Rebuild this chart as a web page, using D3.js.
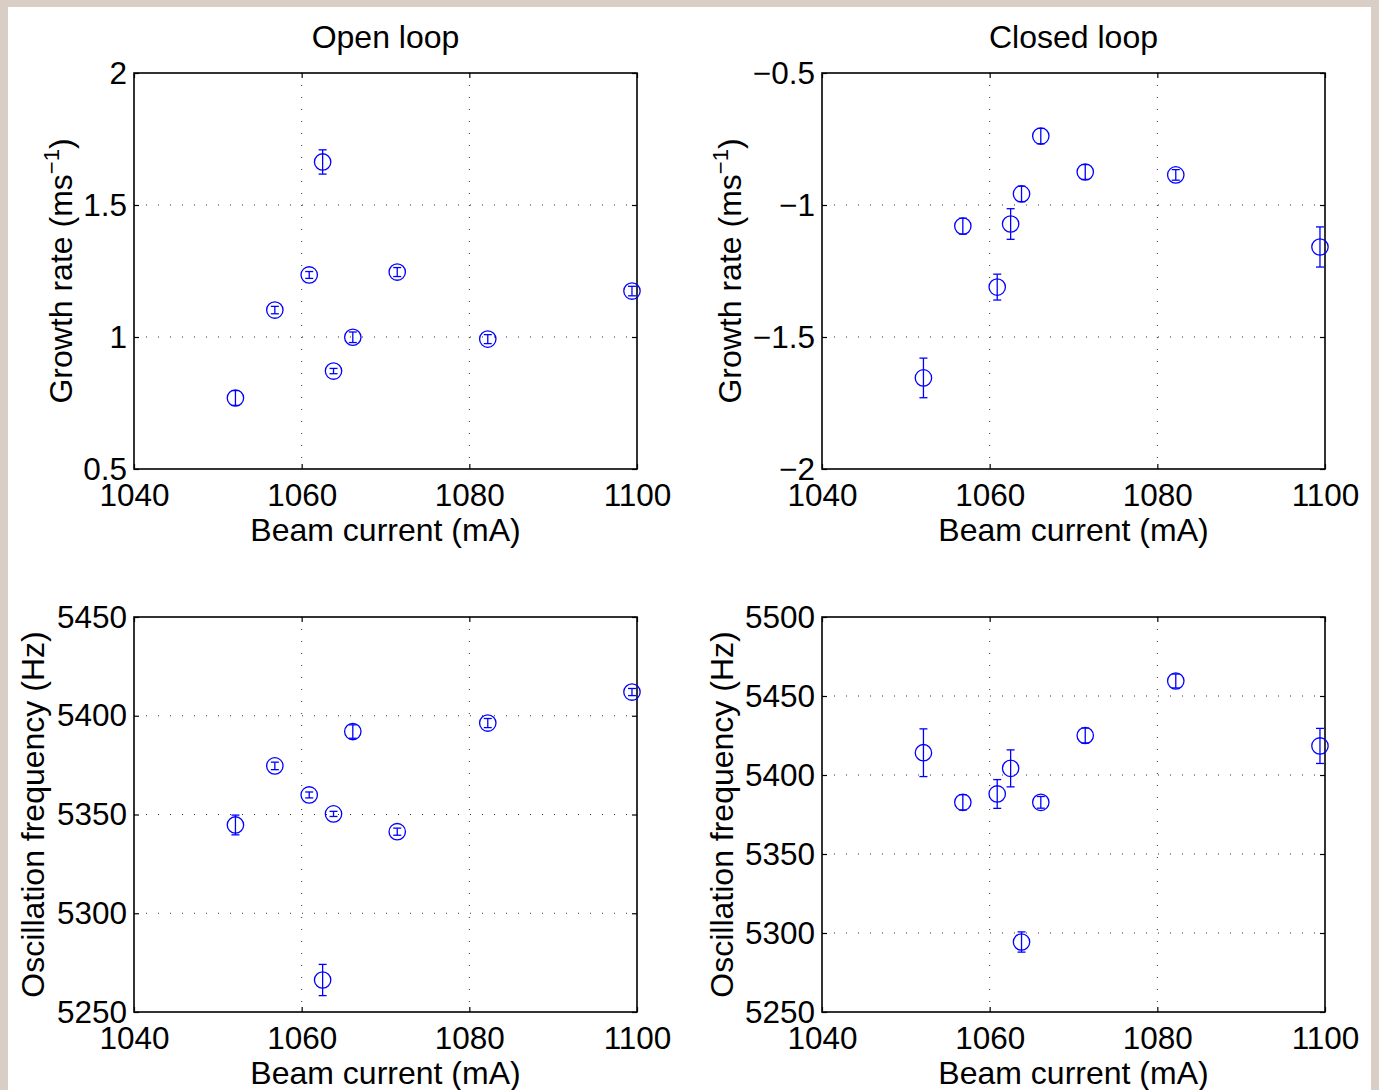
<!DOCTYPE html>
<html>
<head>
<meta charset="utf-8">
<script src="https://cdn.jsdelivr.net/npm/d3@7"></script>
<style>
  html, body { margin: 0; padding: 0; background: #d9cec5; }
  svg { display: block; }
  text { font-family: "Liberation Sans", Arial, Helvetica, sans-serif; fill: #000; }
</style>
</head>
<body>
<svg id="chart" width="1379" height="1090"></svg>
<script>
// beam current of each measurement (mA), shared by all four panels
const beamCurrent = [1052.1, 1056.8, 1060.9, 1062.5, 1063.8, 1066.1, 1071.4, 1082.2, 1099.4];

// growth rate (1/ms)
const openGrowth = [0.769, 1.102, 1.235, 1.663, 0.871, 0.999, 1.246, 0.992, 1.174];
const openGrowthErr = [0.028, 0.014, 0.013, 0.046, 0.010, 0.020, 0.017, 0.017, 0.018];
const closedGrowth = [-1.655, -1.080, -1.311, -1.072, -0.958, -0.739, -0.875, -0.886, -1.159];
const closedGrowthErr = [0.075, 0.030, 0.049, 0.058, 0.029, 0.029, 0.028, 0.020, 0.076];

// oscillation frequency (Hz)
const openFreq = [5344.7, 5374.6, 5359.9, 5266.2, 5350.3, 5392.0, 5341.3, 5396.3, 5412.0];
const openFreqErr = [5.0, 1.9, 1.5, 7.9, 1.3, 3.4, 1.8, 2.3, 1.8];
const closedFreq = [5414.1, 5382.7, 5388.0, 5404.2, 5294.3, 5382.7, 5425.0, 5459.5, 5418.4];
const closedFreqErr = [15.1, 4.8, 9.1, 11.7, 6.4, 3.7, 4.7, 4.4, 11.1];

// ticks
const xTicks = [1040, 1060, 1080, 1100];
const openGrowthTicks = [0.5, 1, 1.5, 2];
const closedGrowthTicks = [-2, -1.5, -1, -0.5];
const openFreqTicks = [5250, 5300, 5350, 5400, 5450];
const closedFreqTicks = [5250, 5300, 5350, 5400, 5450, 5500];

const titles = ["Open loop", "Closed loop"];
const xLabel = "Beam current (mA)";

const svg = d3.select("#chart");
svg.append("rect").attr("x", 8).attr("y", 7).attr("width", 1363).attr("height", 1083).attr("fill", "#fff");

const fontSize = 32;
const tickFont = 31.5;
const blue = "#0000ff";
const minus = s => String(s).replace("-", "\u2212");

const panels = [
  {left: 134, top: 73, bottom: 469, y: openGrowth, err: openGrowthErr, ticks: openGrowthTicks,
   title: titles[0], ylab: "growth", ylabX: 72},
  {left: 822, top: 73, bottom: 469, y: closedGrowth, err: closedGrowthErr, ticks: closedGrowthTicks,
   title: titles[1], ylab: "growth", ylabX: 741},
  {left: 134, top: 617, bottom: 1012, y: openFreq, err: openFreqErr, ticks: openFreqTicks,
   ylab: "freq", ylabX: 44},
  {left: 822, top: 617, bottom: 1012, y: closedFreq, err: closedFreqErr, ticks: closedFreqTicks,
   ylab: "freq", ylabX: 733}
];
const axW = 503;

panels.forEach(p => {
  const x = d3.scaleLinear().domain([xTicks[0], xTicks[xTicks.length - 1]]).range([p.left, p.left + axW]);
  const y = d3.scaleLinear().domain([p.ticks[0], p.ticks[p.ticks.length - 1]]).range([p.bottom, p.top]);
  const g = svg.append("g");

  // dotted grid
  g.selectAll(".gx").data(xTicks.slice(1, -1)).enter().append("line")
    .attr("x1", d => x(d)).attr("x2", d => x(d)).attr("y1", p.top).attr("y2", p.bottom)
    .attr("stroke", "#333").attr("stroke-width", 1).attr("stroke-dasharray", "1,11");
  g.selectAll(".gy").data(p.ticks.slice(1, -1)).enter().append("line")
    .attr("y1", d => y(d)).attr("y2", d => y(d)).attr("x1", p.left).attr("x2", p.left + axW)
    .attr("stroke", "#333").attr("stroke-width", 1).attr("stroke-dasharray", "1,11");

  // axes, inward ticks on all four sides
  g.append("g").attr("transform", `translate(0,${p.bottom})`)
    .call(d3.axisBottom(x).tickValues(xTicks).tickSizeInner(-5).tickSizeOuter(0).tickPadding(15)
      .tickFormat(d3.format("d")));
  g.append("g").attr("transform", `translate(${p.left},0)`)
    .call(d3.axisLeft(y).tickValues(p.ticks).tickSizeInner(-5).tickSizeOuter(0).tickPadding(7)
      .tickFormat(d => minus(d)));
  g.append("g").attr("transform", `translate(0,${p.top})`)
    .call(d3.axisTop(x).tickValues(xTicks).tickSizeInner(-5).tickSizeOuter(0).tickFormat(""));
  g.append("g").attr("transform", `translate(${p.left + axW},0)`)
    .call(d3.axisRight(y).tickValues(p.ticks).tickSizeInner(-5).tickSizeOuter(0).tickFormat(""));
  g.selectAll(".domain").remove();
  g.selectAll(".tick line").attr("stroke", "#000").attr("stroke-width", 1.2);
  g.selectAll(".tick text").style("font-size", tickFont + "px")
    .style("font-family", "'Liberation Sans', Arial, sans-serif").attr("fill", "#000");

  g.append("rect").attr("x", p.left).attr("y", p.top).attr("width", axW).attr("height", p.bottom - p.top)
    .attr("fill", "none").attr("stroke", "#000").attr("stroke-width", 1.6);

  // error bars + circle markers
  const pts = beamCurrent.map((c, i) => ({c: c, v: p.y[i], e: p.err[i]}));
  const pg = g.selectAll(".pt").data(pts).enter().append("g");
  pg.append("line").attr("x1", d => x(d.c)).attr("x2", d => x(d.c))
    .attr("y1", d => y(d.v - d.e)).attr("y2", d => y(d.v + d.e))
    .attr("stroke", blue).attr("stroke-width", 1.3);
  [-1, 1].forEach(s => {
    pg.append("line").attr("x1", d => x(d.c) - 4).attr("x2", d => x(d.c) + 4)
      .attr("y1", d => y(d.v + s * d.e)).attr("y2", d => y(d.v + s * d.e))
      .attr("stroke", blue).attr("stroke-width", 1.3);
  });
  pg.append("circle").attr("cx", d => x(d.c)).attr("cy", d => y(d.v)).attr("r", 8.2)
    .attr("fill", "none").attr("stroke", blue).attr("stroke-width", 1.3);

  const cx = p.left + axW / 2;
  if (p.title) {
    g.append("text").attr("x", cx).attr("y", p.top - 25).attr("text-anchor", "middle")
      .style("font-size", fontSize + "px").text(p.title);
  }
  g.append("text").attr("x", cx).attr("y", p.bottom + 72).attr("text-anchor", "middle")
    .style("font-size", fontSize + "px").text(xLabel);

  const cy = (p.top + p.bottom) / 2;
  const yl = g.append("text").attr("transform", `translate(${p.ylabX},${cy}) rotate(-90)`)
    .attr("text-anchor", "middle").style("font-size", fontSize + "px");
  if (p.ylab === "growth") {
    yl.append("tspan").text("Growth rate (ms");
    yl.append("tspan").attr("dy", -13).style("font-size", "22px").text("\u22121");
    yl.append("tspan").attr("dy", 13).text(")");
  } else {
    yl.text("Oscillation frequency (Hz)");
  }
});
</script>
</body>
</html>
